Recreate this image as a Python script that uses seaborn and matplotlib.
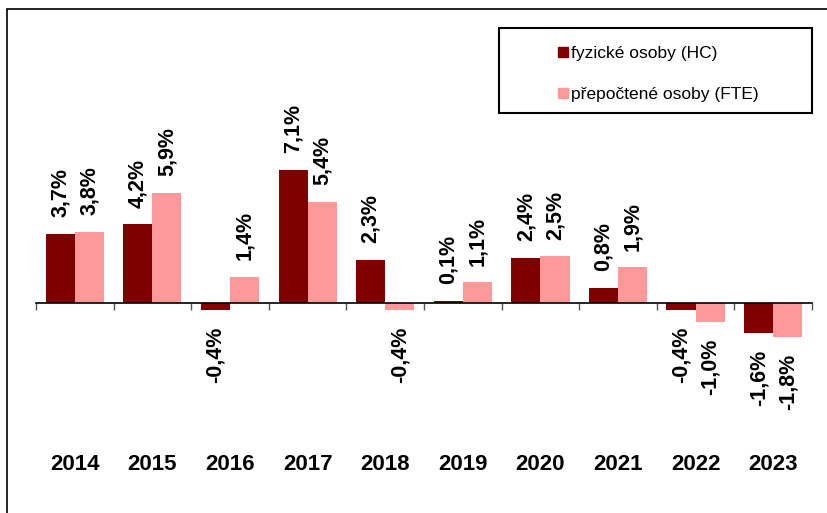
import pandas as pd
import seaborn as sns
import matplotlib.pyplot as plt
from matplotlib.lines import Line2D
from matplotlib.patches import Rectangle
import matplotlib.transforms as mtransforms

# data (year-on-year change, %)
years = ["2014", "2015", "2016", "2017", "2018", "2019", "2020", "2021", "2022", "2023"]
hc = [3.7, 4.2, -0.4, 7.1, 2.3, 0.1, 2.4, 0.8, -0.4, -1.6]
fte = [3.8, 5.9, 1.4, 5.4, -0.4, 1.1, 2.5, 1.9, -1.0, -1.8]
series_names = ["fyzické osoby (HC)", "přepočtené osoby (FTE)"]
colors = ["#800000", "#FF9999"]

df = pd.DataFrame({
    "rok": years * 2,
    "zmena": hc + fte,
    "typ": [series_names[0]] * len(years) + [series_names[1]] * len(years),
})

sns.set_style("white")
plt.rcParams["font.family"] = ["Liberation Sans", "DejaVu Sans"]
plt.rcParams["text.color"] = "black"

W, H = 828, 513
fig = plt.figure(figsize=(W / 100, H / 100), dpi=100)
# axes placed in pixel terms: x 36..812, y 40..440 (from top)
ax = fig.add_axes([36 / W, (H - 440) / H, (812 - 36) / W, 400 / H])

sns.barplot(data=df, x="rok", y="zmena", hue="typ", palette=colors,
            saturation=1, width=0.75, linewidth=0, legend=False, ax=ax)

ax.set_ylim(-7.33, 14.06)
ax.set_xlim(-0.5, len(years) - 0.5)
ax.set_xlabel("")
ax.set_ylabel("")
ax.set_yticks([])
for s in ["top", "right", "left"]:
    ax.spines[s].set_visible(False)
ax.spines["bottom"].set_position(("data", 0))
ax.spines["bottom"].set_color("black")
ax.spines["bottom"].set_linewidth(1.2)

# ticks at category boundaries, year labels below the plot
ax.set_xticks([i - 0.5 for i in range(len(years) + 1)])
ax.set_xticklabels([])
ax.tick_params(axis="x", direction="out", length=5, width=1, color="#555555", bottom=True)
trans = mtransforms.blended_transform_factory(ax.transData, ax.transAxes)
for i, y in enumerate(years):
    ax.text(i, -0.0625, y, transform=trans, ha="center", va="center",
            fontsize=16, fontweight="bold", color="black")

# value labels
for cont, vals in zip(ax.containers, [hc, fte]):
    ax.bar_label(cont, labels=[f"{v:.1f}".replace(".", ",") + "%" for v in vals],
                 padding=12, rotation=90, fontsize=15.5, fontweight="bold", color="black")

# outer frame
fig.patches.append(Rectangle((7 / W, -0.1), 1.2, 1.1 - 9 / H, transform=fig.transFigure,
                             fill=False, edgecolor="black", linewidth=1.2))

# legend box
fig.patches.append(Rectangle((499 / W, (H - 113) / H), (812 - 499) / W, 85 / H,
                             transform=fig.transFigure, fill=False,
                             edgecolor="black", linewidth=1.5))
handles = [Line2D([], [], marker="s", linestyle="none", markersize=6.5,
                  markerfacecolor=c, markeredgecolor=c) for c in colors]
fig.legend(handles, series_names, loc="center left",
           bbox_to_anchor=(548 / W, (H - 74) / H), frameon=False,
           fontsize=12.5, handlelength=0.7, handletextpad=0.15,
           labelspacing=1.5, borderpad=0)

fig.savefig("out.png", dpi=100)
